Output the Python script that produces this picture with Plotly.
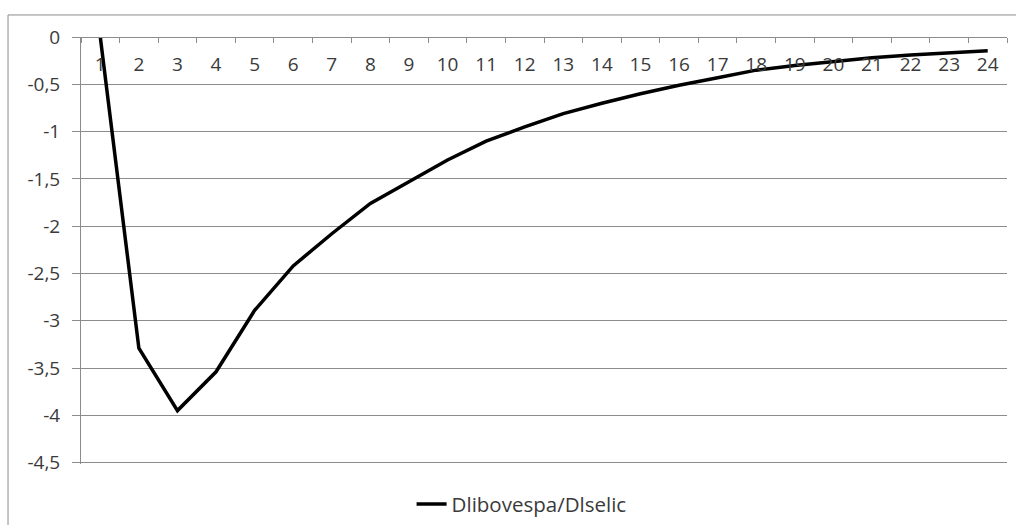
import plotly.graph_objects as go

# Impulse response of Dlibovespa to a shock in Dlselic, periods 1..24
periods = [str(p) for p in range(1, 25)]
response = [0.0, -3.29, -3.95, -3.54, -2.89, -2.42, -2.08, -1.76, -1.53, -1.30,
            -1.10, -0.95, -0.81, -0.70, -0.60, -0.51, -0.43, -0.35, -0.30, -0.26,
            -0.22, -0.19, -0.17, -0.145]
series_name = "Dlibovespa/Dlselic"

y_tick_vals = [0, -0.5, -1, -1.5, -2, -2.5, -3, -3.5, -4, -4.5]
y_tick_text = ["0", "-0,5", "-1", "-1,5", "-2", "-2,5", "-3", "-3,5", "-4", "-4,5"]

FONT = "'Open Sans', 'Noto Sans', sans-serif"
TXT = "#3a3a3a"
GRID = "#8c8c8c"
SIZE = 19

fig = go.Figure()
fig.add_trace(go.Scatter(
    x=periods, y=response, mode="lines", name=series_name,
    line=dict(color="#000000", width=3.5),
))

fig.update_layout(
    width=1016, height=525,
    margin=dict(l=81, r=9, t=37, b=61, autoexpand=False),
    paper_bgcolor="white", plot_bgcolor="white",
    font=dict(family=FONT, size=SIZE, color=TXT),
    showlegend=True,
    legend=dict(orientation="h", x=0.357, y=-0.094, xanchor="left", yanchor="middle",
                font=dict(family=FONT, size=20.5, color=TXT),
                bgcolor="rgba(0,0,0,0)"),
    # category axis crossing at y = 0 (top of the plot); ticks and labels hang below it
    xaxis=dict(
        type="category", range=[-0.5, 23.5],
        anchor="free", position=1.0, side="bottom",
        showline=True, linecolor=GRID, linewidth=1,
        ticks="outside", ticklen=5, tickcolor=GRID, tickson="boundaries",
        ticklabelstandoff=10,
        showgrid=False, zeroline=False,
        tickfont=dict(family=FONT, size=SIZE, color=TXT),
    ),
    yaxis=dict(
        range=[-4.515, 0.0005], tickvals=y_tick_vals, ticktext=y_tick_text,
        showline=True, linecolor=GRID, linewidth=1,
        ticks="outside", ticklen=8, tickcolor=GRID, ticklabelstandoff=8,
        showgrid=True, gridcolor=GRID, gridwidth=1, zeroline=False,
        tickfont=dict(family=FONT, size=SIZE, color=TXT),
    ),
    shapes=[dict(type="rect", xref="paper", yref="paper",
                 x0=-0.0788, x1=1.05, y0=-0.3, y1=1.0516,
                 line=dict(color=GRID, width=1), fillcolor="rgba(0,0,0,0)",
                 layer="below")],
)

fig.write_html("out.html")
